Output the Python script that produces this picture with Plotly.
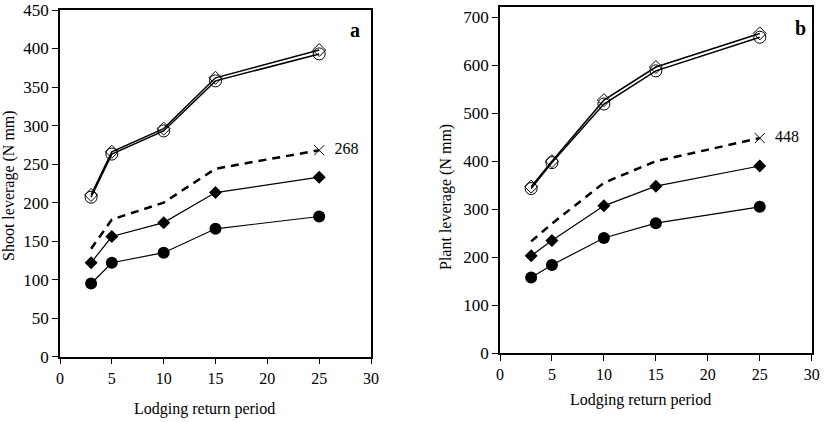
import plotly.graph_objects as go

periods = [3, 5, 10, 15, 25]

# Panel a: shoot leverage (N mm)
a_open_diamond = [210, 266, 296, 362, 398]
a_open_circle = [207, 263, 293, 358, 393]
a_dashed = [140, 178, 200, 244, 268]
a_filled_diamond = [122, 156, 174, 213, 233]
a_filled_circle = [95, 122, 135, 166, 182]

# Panel b: plant leverage (N mm)
b_open_diamond = [347, 400, 527, 596, 666]
b_open_circle = [343, 397, 519, 588, 658]
b_dashed = [233, 270, 355, 400, 448]
b_filled_diamond = [203, 235, 307, 348, 390]
b_filled_circle = [158, 184, 240, 271, 305]

x_ticks = [0, 5, 10, 15, 20, 25, 30]
a_yticks = [0, 50, 100, 150, 200, 250, 300, 350, 400, 450]
b_yticks = [0, 100, 200, 300, 400, 500, 600, 700]

FONT = "Times New Roman, Liberation Serif, serif"
fig = go.Figure()


def add_panel(xa, ya, od, oc, ds, fd, fc, endlabel):
    common = dict(xaxis=xa, yaxis=ya, showlegend=False, hoverinfo="x+y")
    fig.add_trace(go.Scatter(x=periods, y=od, mode="lines+markers",
                             line=dict(color="black", width=1.5),
                             marker=dict(symbol="diamond-open", size=10, color="black",
                                         line=dict(width=1, color="black")), **common))
    fig.add_trace(go.Scatter(x=periods, y=oc, mode="lines+markers",
                             line=dict(color="black", width=1.5),
                             marker=dict(symbol="circle-open", size=12, color="black",
                                         line=dict(width=1, color="black")), **common))
    fig.add_trace(go.Scatter(x=periods, y=ds, mode="lines",
                             line=dict(color="black", width=2.5, dash="8px,6px"), **common))
    fig.add_trace(go.Scatter(x=[periods[-1]], y=[ds[-1]], mode="markers+text",
                             marker=dict(symbol="x-thin-open", size=10, color="black",
                                         line=dict(width=1, color="black")),
                             text=["  " + str(endlabel)], textposition="middle right",
                             textfont=dict(family=FONT, size=16, color="black"), **common))
    fig.add_trace(go.Scatter(x=periods, y=fd, mode="lines+markers",
                             line=dict(color="black", width=1.2),
                             marker=dict(symbol="diamond", size=10, color="black"), **common))
    fig.add_trace(go.Scatter(x=periods, y=fc, mode="lines+markers",
                             line=dict(color="black", width=1.2),
                             marker=dict(symbol="circle", size=12, color="black"), **common))


add_panel("x", "y", a_open_diamond, a_open_circle, a_dashed, a_filled_diamond, a_filled_circle, a_dashed[-1])
add_panel("x2", "y2", b_open_diamond, b_open_circle, b_dashed, b_filled_diamond, b_filled_circle, b_dashed[-1])

W, H = 824, 422
axis_common = dict(showline=True, linecolor="black", linewidth=1.5, mirror=True,
                   ticks="outside", ticklen=6, tickwidth=1.2, tickcolor="black",
                   showgrid=False, zeroline=False, automargin=False)
xfont = dict(tickfont=dict(family=FONT, size=16, color="black"))
yfont = dict(tickfont=dict(family=FONT, size=17, color="black"))

fig.update_layout(
    template="none",
    width=W, height=H,
    margin=dict(l=0, r=0, t=0, b=0, autoexpand=False),
    paper_bgcolor="white", plot_bgcolor="white",
    xaxis=dict(domain=[60 / W, 371 / W], range=[0, 30], tickvals=x_ticks,
               anchor="y", **axis_common, **xfont),
    yaxis=dict(domain=[1 - 356.7 / H, 1 - 10 / H], range=[0, 450], tickvals=a_yticks,
               anchor="x", **axis_common, **yfont),
    xaxis2=dict(domain=[500 / W, 811.7 / W], range=[0, 30], tickvals=x_ticks,
                anchor="y2", **axis_common, **xfont),
    yaxis2=dict(domain=[1 - 353.3 / H, 1 - 7 / H], range=[0, 721], tickvals=b_yticks,
                anchor="x2", **axis_common, **yfont),
)

ann_font = dict(family=FONT, size=16, color="black")
anns = [
    dict(text="Lodging return period", x=204 / W, y=1 - 409 / H),
    dict(text="Lodging return period", x=640 / W, y=1 - 400 / H),
    dict(text="Shoot leverage (N mm)", x=9 / W, y=1 - 186 / H, textangle=-90),
    dict(text="Plant leverage (N mm)", x=446 / W, y=1 - 197 / H, textangle=-90),
    dict(text="<b>a</b>", x=355 / W, y=1 - 30 / H, font=dict(family=FONT, size=20, color="black")),
    dict(text="<b>b</b>", x=800 / W, y=1 - 28 / H, font=dict(family=FONT, size=20, color="black")),
]
for a in anns:
    d = dict(xref="paper", yref="paper", showarrow=False, xanchor="center", yanchor="middle",
             font=ann_font)
    d.update(a)
    fig.add_annotation(**d)

fig.write_html("out.html")
